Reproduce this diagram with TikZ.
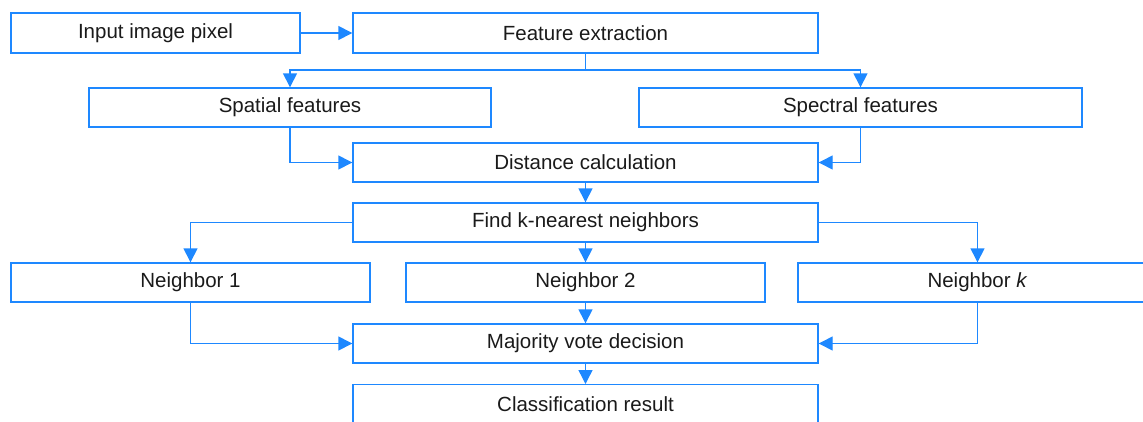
\documentclass[tikz,border=0pt]{standalone}
\usepackage{fontspec}
\setmainfont{Liberation Sans}
\usetikzlibrary{arrows.meta}
\definecolor{lineblue}{HTML}{1E88FF}
\definecolor{txt}{HTML}{1A1A1A}
\tikzset{
  box/.style={draw=lineblue, line width=1.4pt, rectangle, inner sep=0pt, text=txt, font=\fontsize{20.5}{22}\selectfont},
  conn/.style={draw=lineblue, line width=1.4pt, -{Triangle[length=14pt,width=14pt]}},
  plain/.style={draw=lineblue, line width=1.4pt}
}
\begin{document}
\begin{tikzpicture}[x=1pt,y=-1pt]
\useasboundingbox (0,0) rectangle (1143,421);
\clip (0,0) rectangle (1143,421);
\node[box, minimum width=289pt, minimum height=40pt] (inp) at (155.5,33) {Input image pixel};
\node[box, minimum width=465pt, minimum height=40pt] (fe) at (585.5,33) {Feature extraction};
\node[box, minimum width=402pt, minimum height=39pt] (spa) at (290,107.5) {Spatial features};
\node[box, minimum width=443pt, minimum height=39pt] (spe) at (860.5,107.5) {Spectral features};
\node[box, minimum width=465pt, minimum height=39pt] (dc) at (585.5,162.5) {Distance calculation};
\node[box, minimum width=465pt, minimum height=39pt] (knn) at (585.5,222.5) {Find k-nearest neighbors};
\node[box, minimum width=359pt, minimum height=39pt] (n1) at (190.5,282.5) {Neighbor 1};
\node[box, minimum width=359pt, minimum height=39pt] (n2) at (585.5,282.5) {Neighbor 2};
\node[box, minimum width=359pt, minimum height=39pt] (nk) at (977.5,282.5) {Neighbor \textit{k}};
\node[box, minimum width=465pt, minimum height=39pt] (mv) at (585.5,343.5) {Majority vote decision};
\node[box, minimum width=465pt, minimum height=60pt, anchor=north] (cr) at (585.5,384) {};
\node[text=txt, font=\fontsize{20.5}{22}\selectfont] (crt) at (585.5,404) {Classification result};
\coordinate (br) at (585.5,70);
\draw[conn] (inp.east) -- (fe.west);
\draw[plain] (fe.south) -- (br);
\draw[conn] (br) -| (spa.north);
\draw[conn] (br) -| (spe.north);
\draw[conn] (spa.south) |- (dc.west);
\draw[conn] (spe.south) |- (dc.east);
\draw[conn] (dc.south) -- (knn.north);
\draw[conn] (knn.west) -| (n1.north);
\draw[conn] (knn.south) -- (n2.north);
\draw[conn] (knn.east) -| (nk.north);
\draw[conn] (n1.south) |- (mv.west);
\draw[conn] (n2.south) -- (mv.north);
\draw[conn] (nk.south) |- (mv.east);
\draw[conn] (mv.south) -- (cr.north);
\end{tikzpicture}
\end{document}
